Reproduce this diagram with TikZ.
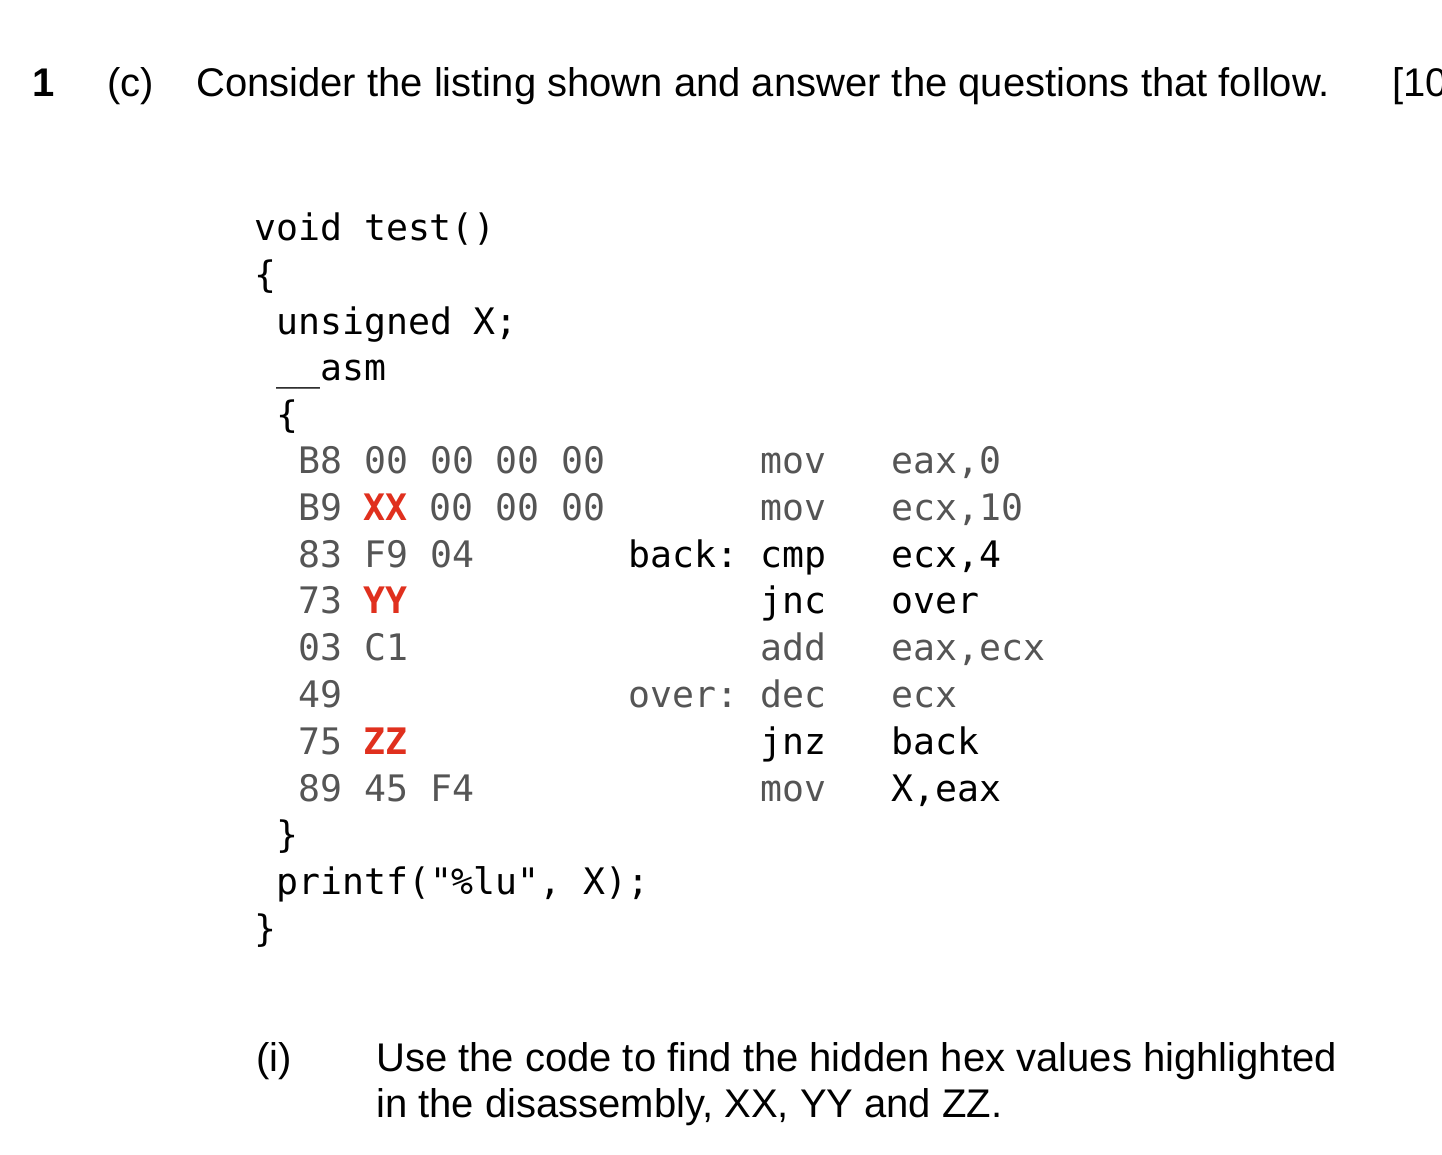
\documentclass[tikz,border=0pt]{standalone}
\usepackage{fontspec}
\setmainfont{Liberation Sans}
\newfontfamily\codefont{DejaVu Sans Mono}
\definecolor{cg}{HTML}{555555}
\definecolor{cr}{HTML}{E0301E}
\begin{document}
\begin{tikzpicture}[x=1pt,y=-1pt,
 tx/.style={anchor=base west,inner sep=0pt,font=\fontsize{40}{45}\selectfont},
 cd/.style={anchor=base west,inner sep=0pt,font=\codefont\fontsize{36.5}{40}\selectfont},
 hx/.style={cd,text=cg},
 rd/.style={cd,text=cr,font=\codefont\bfseries\fontsize{36.5}{40}\selectfont}]
\path[use as bounding box] (0,0) rectangle (1442,1154);
\clip (0,0) rectangle (1442,1154);
\node[tx] (n1) at (32,96) {\bfseries 1};
\node[tx] (c) at (107,96) {(c)};
\node[tx] (q) at (196,96) {Consider the listing shown and answer the questions that follow.};
\node[tx] (m) at (1392,96) {[10};
\node[cd] (l1) at (254,240) {void test()};
\node[cd] (l2) at (254,287) {\{};
\node[cd] (l3) at (276,334) {unsigned X;};
\node[cd] (l4) at (276,380) {\_\_asm};
\node[cd] (l5) at (276,427) {\{};
\node[hx] (h1) at (298,473) {B8 00 00 00 00};
\node[hx] (h2) at (298,520) {B9};
\node[rd] (xx) at (363,520) {XX};
\node[hx] (h2b) at (429,520) {00 00 00};
\node[hx] (h3) at (298,567) {83 F9 04};
\node[hx] (h4) at (298,613) {73};
\node[rd] (yy) at (363,613) {YY};
\node[hx] (h5) at (298,660) {03 C1};
\node[hx] (h6) at (298,707) {49};
\node[hx] (h7) at (298,754) {75};
\node[rd] (zz) at (363,754) {ZZ};
\node[hx] (h8) at (298,801) {89 45 F4};
\node[cd] (lb1) at (628,567) {back:};
\node[hx] (lb2) at (628,707) {over:};
\node[hx] (m1) at (760,473) {mov};
\node[hx] (m2) at (760,520) {mov};
\node[cd] (m3) at (760,567) {cmp};
\node[cd] (m4) at (760,613) {jnc};
\node[hx] (m5) at (760,660) {add};
\node[hx] (m6) at (760,707) {dec};
\node[cd] (m7) at (760,754) {jnz};
\node[hx] (m8) at (760,801) {mov};
\node[hx] (o1) at (891,473) {eax,0};
\node[hx] (o2) at (891,520) {ecx,10};
\node[cd] (o3) at (891,567) {ecx,4};
\node[cd] (o4) at (891,613) {over};
\node[hx] (o5) at (891,660) {eax,ecx};
\node[hx] (o6) at (891,707) {ecx};
\node[cd] (o7) at (891,754) {back};
\node[cd] (o8) at (891,801) {X,eax};
\node[cd] (l6) at (276,847) {\}};
\node[cd] (l7) at (276,894) {printf("\%lu", X);};
\node[cd] (l8) at (254,941) {\}};
\node[tx] (i) at (256,1071) {(i)};
\node[tx] (t1) at (376,1071) {Use the code to find the hidden hex values highlighted};
\node[tx] (t2) at (376,1117) {in the disassembly, XX, YY and ZZ.};
\end{tikzpicture}
\end{document}
